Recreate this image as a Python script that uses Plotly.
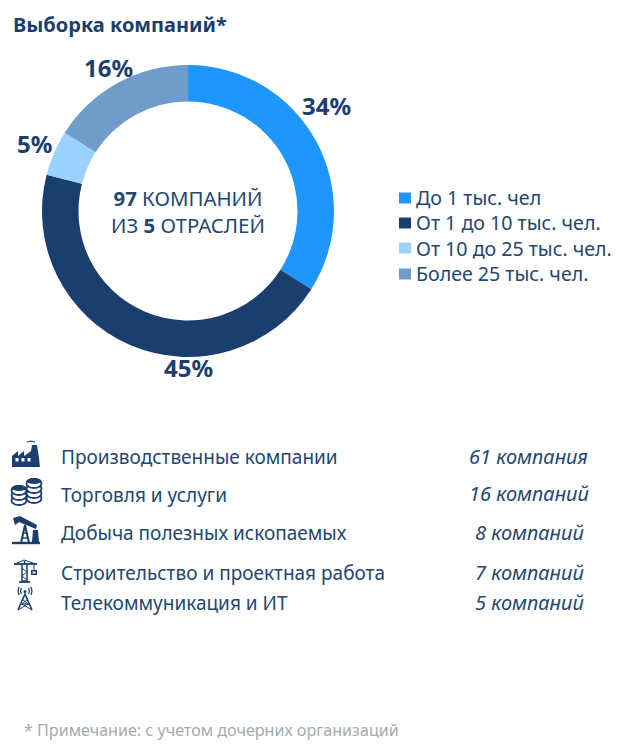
import plotly.graph_objects as go

W, H = 620, 750
TITLE = "Выборка компаний*"
CATEGORIES = ["До 1 тыс. чел", "От 1 до 10 тыс. чел.", "От 10 до 25 тыс. чел.", "Более 25 тыс. чел."]
SHARES = [34, 45, 5, 16]
COLORS = ["#1E96FC", "#1A3E6E", "#99D1FF", "#6F9CC8"]
CENTER = "<b>97</b> КОМПАНИЙ<br>ИЗ <b>5</b> ОТРАСЛЕЙ"
INDUSTRIES = ["Производственные компании", "Торговля и услуги", "Добыча полезных ископаемых",
              "Строительство и проектная работа", "Телекоммуникация и ИТ"]
COUNTS = ["61 компания", "16 компаний", "8 компаний", "7 компаний", "5 компаний"]
ROW_Y = [457, 495, 533, 573, 603]
COUNT_X = [528, 529, 529, 529, 529]
LEGEND_Y = [198, 223, 248, 274]
LABEL_POS = [(326, 105), (188, 368), (34, 143), (108, 67)]
NOTE = "* Примечание: с учетом дочерних организаций"

DARK = "#1A3E6E"
TXT = "#24466F"
FONT = "Noto Sans"

def X(p): return p / W
def Y(p): return 1 - p / H

def path(points, close=True):
    s = ""
    for i, (x, y) in enumerate(points):
        s += ("M" if i == 0 else "L") + f"{X(x):.5f},{Y(y):.5f} "
    return s + ("Z" if close else "")

shapes = []
def poly(points, color=DARK):
    shapes.append(dict(type="path", xref="paper", yref="paper", path=path(points),
                       fillcolor=color, line=dict(width=0), layer="above"))
def stroke(points, w=1.5, color=DARK):
    shapes.append(dict(type="path", xref="paper", yref="paper", path=path(points, close=False),
                       line=dict(color=color, width=w), layer="above"))
def oval(x0, y0, x1, y1, fill=DARK, line=None, w=1.5):
    shapes.append(dict(type="circle", xref="paper", yref="paper",
                       x0=X(x0), x1=X(x1), y0=Y(y1), y1=Y(y0), fillcolor=fill,
                       line=dict(color=line or fill, width=w if line else 0), layer="above"))
def rect(x0, y0, x1, y1, color=DARK):
    poly([(x0, y0), (x1, y0), (x1, y1), (x0, y1)], color)

# factory icon
poly([(12, 467), (12, 456), (18, 451), (18, 456), (24, 451), (24, 456), (31, 451),
      (32, 445), (37, 445), (39, 458), (40, 467)])
for wx in (17, 23, 29):
    rect(wx - 1.5, 458, wx + 1.5, 461.5, "#FFFFFF")
stroke([(27, 442), (31, 441), (35, 442)], 1.2)
# coins icon
for cx, tops in ((19, (486, 491, 496)), (34, (479, 484, 489, 494))):
    for t in reversed(tops):
        oval(cx - 7.5, t, cx + 7.5, t + 9, "#FFFFFF", DARK, 1.8)
    oval(cx - 7.5, tops[0] - 1, cx + 7.5, tops[0] + 5, DARK)
# pump jack icon
poly([(13, 518), (20, 516), (37, 525), (36, 529), (19, 522), (15, 525)])
stroke([(12, 543), (40, 543)], 2.4)
stroke([(21, 543), (25, 525), (29, 543)], 2)
stroke([(22, 538), (28, 538)], 1.4)
stroke([(23, 533), (27, 533)], 1.4)
poly([(33, 530), (38, 530), (39, 542), (32, 542)])
# crane icon
stroke([(14, 564), (37, 564)], 1.8)
stroke([(24.5, 561), (24.5, 564)], 1.5)
stroke([(15, 564), (24, 560), (36, 564)], 1)
stroke([(22, 565), (22, 581), (27, 581), (27, 565)], 1.5)
stroke([(22, 568), (27, 572), (22, 576), (27, 580)], 1)
stroke([(19, 582), (30, 582)], 1.8)
stroke([(34, 564), (34, 570)], 1)
rect(31, 570, 37, 575)
rect(32.5, 571.5, 35.5, 573.5, "#FFFFFF")
# tower icon
stroke([(18, 610), (25, 594), (32, 610)], 1.6)
stroke([(21, 604), (29, 604)], 1.2)
stroke([(22, 599), (28, 604), (18, 610)], 1)
stroke([(28, 599), (22, 604), (32, 610)], 1)
oval(23.5, 590, 26.5, 593)
stroke([(21.5, 588), (20.5, 591), (21.5, 594)], 1.2)
stroke([(28.5, 588), (29.5, 591), (28.5, 594)], 1.2)
stroke([(19, 587), (18, 591), (19, 595)], 1.2)
stroke([(31, 587), (32, 591), (31, 595)], 1.2)

# legend swatches
for c, ly in zip(COLORS, LEGEND_Y):
    rect(399, ly - 5.5, 411, ly + 5.5, c)

annotations = []
def text(x, y, s, size, color=TXT, anchor="left", **kw):
    annotations.append(dict(x=X(x), y=Y(y), xref="paper", yref="paper", text=s, showarrow=False,
                            xanchor=anchor, yanchor="middle", borderpad=0, borderwidth=0,
                            font=dict(family=FONT, size=size, color=color), **kw))

text(13, 24, "<b>" + TITLE + "</b>", 20, DARK)
text(188, 212, CENTER, 20.4, TXT, "center", align="center")
text(416, sum(LEGEND_Y) / len(LEGEND_Y) - 0.5, "<br>".join(CATEGORIES), 19.6, TXT, "left", align="left")
for name, count, ry, cx in zip(INDUSTRIES, COUNTS, ROW_Y, COUNT_X):
    text(61, ry, name, 19)
    text(cx, ry - 1, "<i>" + count + "</i>", 20, TXT, "center")
for value, (lx, ly) in zip(SHARES, LABEL_POS):
    text(lx, ly, f"<b>{value}%</b>", 24, DARK, "center")
text(24, 730, NOTE, 16.1, "#A3ABB3")

fig = go.Figure(go.Pie(
    labels=CATEGORIES, values=SHARES, hole=0.75, sort=False, direction="clockwise", rotation=0,
    marker=dict(colors=COLORS, line=dict(width=0)),
    textinfo="none",
    domain=dict(x=[X(42), X(334)], y=[Y(357), Y(65)]),
    showlegend=False,
))
fig.update_layout(width=W, height=H, margin=dict(l=0, r=0, t=0, b=0), paper_bgcolor="white",
                  shapes=shapes, annotations=annotations)
fig.write_html("out.html", config={"displayModeBar": False}, post_script="document.body.style.margin='0';")
